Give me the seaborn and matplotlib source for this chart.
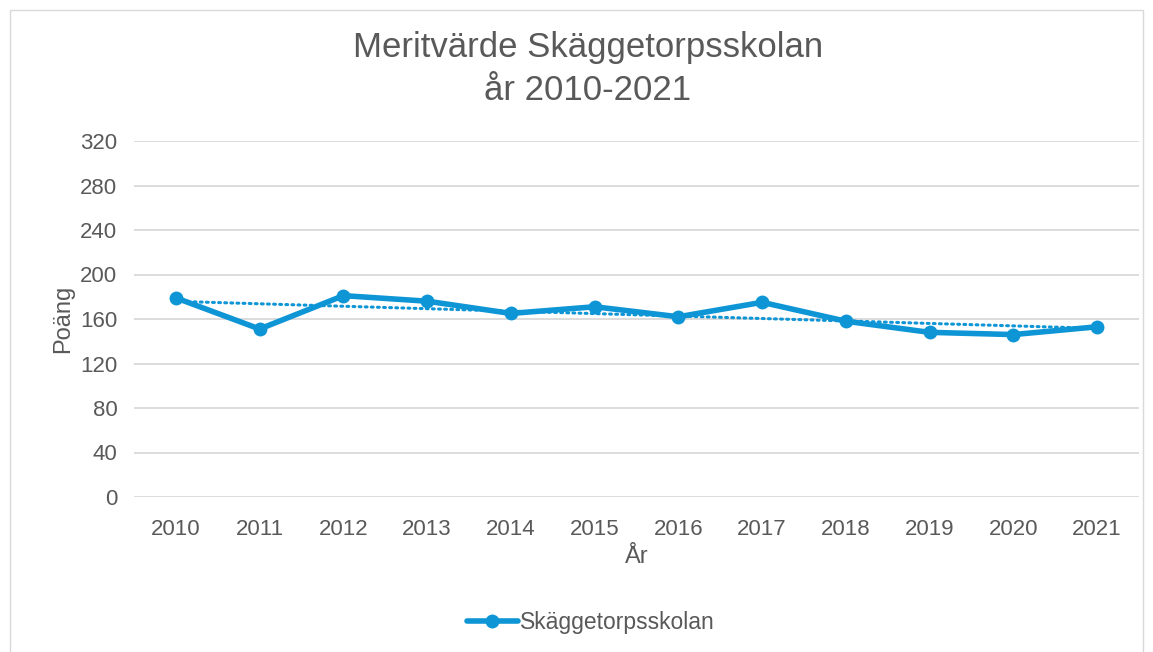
import numpy as np
import pandas as pd
import matplotlib.pyplot as plt
import seaborn as sns
from matplotlib.patches import Rectangle

# data
years = [2010, 2011, 2012, 2013, 2014, 2015, 2016, 2017, 2018, 2019, 2020, 2021]
points = [179, 151, 181, 176, 165, 171, 162, 175, 158, 148, 146, 153]
y_ticks = [0, 40, 80, 120, 160, 200, 240, 280, 320]

df = pd.DataFrame({"År": years, "Poäng": points})

sns.set_style("white")
plt.rcParams["font.family"] = ["Liberation Sans", "DejaVu Sans"]
grey = "#595959"
blue = "#0E95D5"

fig = plt.figure(figsize=(11.53, 6.52), dpi=100)
ax = fig.add_axes([134 / 1153, 1 - 497 / 652, (1139 - 134) / 1153, (497 - 141) / 652])

# frame around the whole chart
fig.patches.append(Rectangle((10 / 1153, -0.05), 1133 / 1153, 1 - 10 / 652 + 0.05,
                             transform=fig.transFigure, fill=False,
                             edgecolor="#d9d9d9", linewidth=1))

# linear trend line
coef = np.polyfit(years, points, 1)
trend = np.polyval(coef, years)
ax.plot(years, trend, linestyle=(0, (0.6, 1.4)), color=blue, linewidth=2.2,
        dash_capstyle="round", zorder=2)

sns.lineplot(data=df, x="År", y="Poäng", ax=ax, color=blue, linewidth=4,
             marker="o", markersize=10, markeredgewidth=0,
             label="Skäggetorpsskolan", zorder=3)

ax.set_xlim(2009.5, 2021.5)
ax.set_ylim(0, 320)
ax.set_yticks(y_ticks)
ax.set_xticks(years)
ax.set_xticklabels([str(y) for y in years])
ax.grid(axis="y", color="#d9d9d9", linewidth=1.3)
ax.set_axisbelow(True)
for s in ax.spines.values():
    s.set_visible(False)
ax.tick_params(axis="both", length=0, labelsize=16, colors=grey)
ax.tick_params(axis="x", pad=16)
ax.tick_params(axis="y", pad=12)

ax.set_xlabel("År", fontsize=17, color=grey, labelpad=4)
ax.set_ylabel("Poäng", fontsize=17, color=grey, labelpad=4)

fig.text(0.51, 1 - 48 / 652, "Meritvärde Skäggetorpsskolan",
         ha="center", va="center", fontsize=25, color=grey)
fig.text(0.51, 1 - 90 / 652, "år 2010-2021",
         ha="center", va="center", fontsize=25, color=grey)

ax.legend(loc="center", bbox_to_anchor=((591 - 134) / 1005, (497 - 623) / 356),
          frameon=False, fontsize=16.5, labelcolor=grey,
          handlelength=2.2, handletextpad=0.1)

plt.savefig("out.png", dpi=100)
